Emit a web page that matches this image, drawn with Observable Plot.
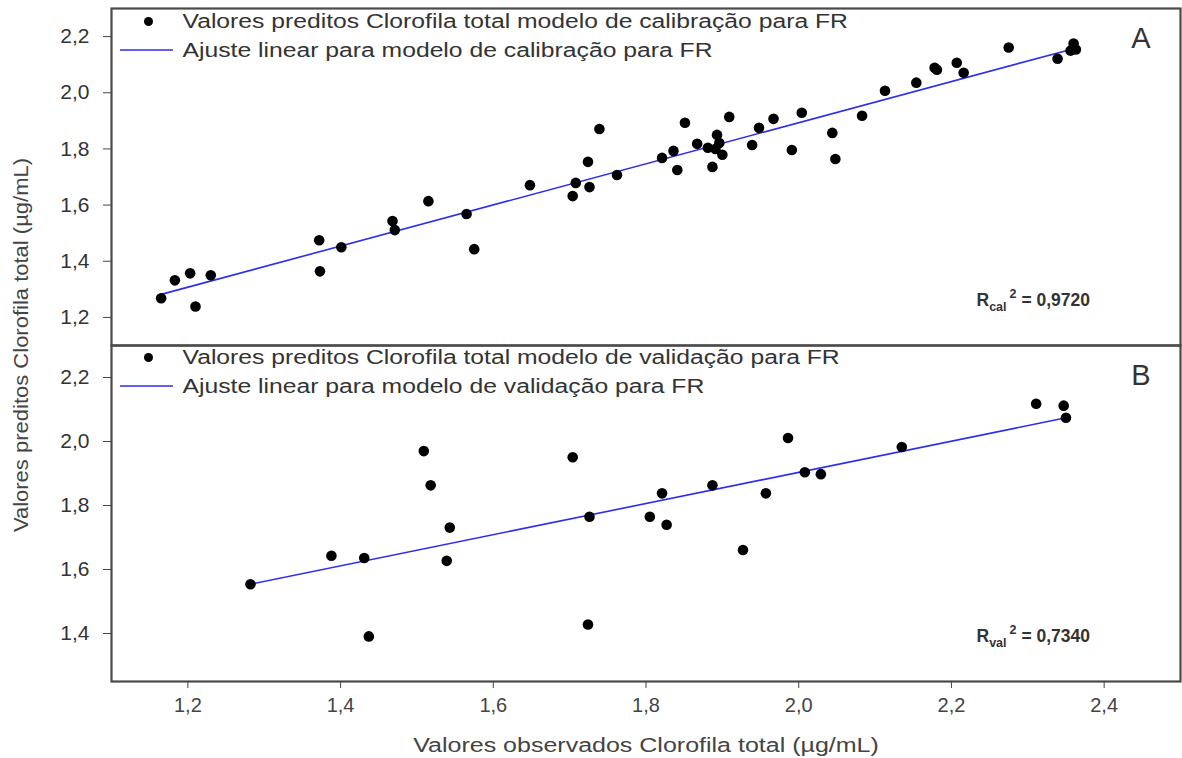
<!DOCTYPE html>
<html><head><meta charset="utf-8">
<script src="https://cdn.jsdelivr.net/npm/d3@7"></script>
<script src="https://cdn.jsdelivr.net/npm/@observablehq/plot@0.6"></script>
<style>
body{margin:0;background:#fff;font-family:"Liberation Sans",Arial,sans-serif;}
#wrap{position:relative;width:1182px;height:758px;overflow:hidden}
#wrap svg{position:absolute;left:0;overflow:visible}
#ylab{position:absolute;left:21px;top:345px;transform:translate(-50%,-50%) rotate(-90deg) scaleX(1.1);white-space:nowrap;font-size:20px;color:#444}
</style></head><body><div id="wrap"><div id="ylab">Valores preditos Clorofila total (µg/mL)</div></div>
<script>
// Panel A: calibration
const calObs  = [1.165,1.183,1.203,1.230,1.210,1.372,1.373,1.401,1.468,1.471,1.515,1.565,1.575,1.648,1.704,1.708,1.724,1.726,1.739,1.762,1.821,1.836,1.841,1.851,1.867,1.881,1.887,1.893,1.896,1.891,1.900,1.909,1.939,1.948,1.967,1.991,2.004,2.044,2.048,2.083,2.113,2.154,2.178,2.181,2.207,2.216,2.275,2.339,2.360,2.356,2.363];
const calPred = [1.268,1.332,1.357,1.350,1.239,1.475,1.364,1.450,1.543,1.511,1.614,1.568,1.443,1.671,1.632,1.679,1.754,1.664,1.871,1.707,1.768,1.793,1.725,1.893,1.818,1.804,1.736,1.850,1.821,1.800,1.779,1.914,1.814,1.875,1.907,1.796,1.929,1.857,1.764,1.918,2.007,2.036,2.089,2.082,2.107,2.071,2.161,2.121,2.175,2.150,2.154];
const calFitX = [1.165, 2.360];
const calFitY = [1.282, 2.157];
// Panel B: validation
const valObs  = [1.282,1.388,1.431,1.437,1.509,1.518,1.543,1.539,1.704,1.724,1.726,1.805,1.821,1.827,1.887,1.927,1.957,1.986,2.008,2.029,2.135,2.311,2.347,2.350];
const valPred = [1.554,1.643,1.636,1.391,1.970,1.863,1.731,1.627,1.951,1.428,1.765,1.765,1.838,1.740,1.863,1.661,1.838,2.011,1.904,1.898,1.983,2.118,2.112,2.074];
const valFitX = [1.282, 2.350];
const valFitY = [1.554, 2.074];

const xTicks = [1.2,1.4,1.6,1.8,2.0,2.2,2.4];
const yTicksCal = [1.2,1.4,1.6,1.8,2.0,2.2];
const yTicksVal = [1.4,1.6,1.8,2.0,2.2];
const legendCal = ["Valores preditos Clorofila total modelo de calibração para FR","Ajuste linear para modelo de calibração para FR"];
const legendVal = ["Valores preditos Clorofila total modelo de validação para FR","Ajuste linear para modelo de validação para FR"];
const xLabel = "Valores observados Clorofila total (µg/mL)";
const tags = ["A","B"];
const rLabels = [["cal","0,9720"],["val","0,7340"]];

const FONT = '"Liberation Sans", Arial, sans-serif';
const fmt = d => d.toFixed(1).replace(".", ",");
const BLUE = "#2d2df0";

function stretch(sel, k) {
  sel.each(function() {
    const len = this.getComputedTextLength();
    this.setAttribute("textLength", len * k);
    this.setAttribute("lengthAdjust", "spacingAndGlyphs");
  });
}

function panel(o) {
  const pts = o.obs.map((x,i)=>({x, y:o.pred[i]}));
  const fit = o.fitX.map((x,i)=>({x, y:o.fitY[i]}));
  const marks = [
    Plot.axisY({ticks:o.yTicks, tickFormat:()=>"", tickSize:8, label:null, stroke:"#444"}),
    Plot.text(o.yTicks, {y:d=>d, text:fmt, frameAnchor:"left", dx:-22, textAnchor:"end", lineAnchor:"middle", fontSize:21, fill:"#333"}),
    Plot.line(fit, {x:"x", y:"y", stroke:BLUE, strokeWidth:1.6}),
    Plot.dot(pts, {x:"x", y:"y", r:5.3, fill:"#000", stroke:null}),
    Plot.text([o.tag], {text:d=>d, frameAnchor:"top-right", dx:-30, dy:30, lineAnchor:"middle", fontSize:29, fill:"#333"}),
    Plot.dot([0], {frameAnchor:"top-left", dx:37, dy:o.legDy, r:4.5, fill:"#000"}),
    Plot.text([o.legend[0]], {text:d=>d, frameAnchor:"top-left", dx:71, dy:o.legDy, lineAnchor:"middle", textAnchor:"start", fontSize:20, fill:"#333", className:"leg"}),
    Plot.text([o.legend[1]], {text:d=>d, frameAnchor:"top-left", dx:71, dy:o.legDy+29, lineAnchor:"middle", textAnchor:"start", fontSize:20, fill:"#333", className:"leg"}),
    Plot.frame({stroke:"#4a4a4a", strokeWidth:2.2})
  ];
  if (o.showX) marks.push(Plot.axisX({ticks:xTicks, tickFormat:fmt, tickSize:7, tickPadding:9, fontSize:20, stroke:"#444", fill:"#444",
      label:xLabel, labelAnchor:"center", labelArrow:"none", labelOffset:70}));
  const svg = Plot.plot({
    width:1182, height:o.height, marginLeft:111, marginRight:2, marginTop:o.marginTop, marginBottom:o.marginBottom,
    style:{fontFamily:FONT, fontSize:"19px", color:"#444", background:"transparent", overflow:"visible"},
    x:{domain:[1.1,2.5], axis: o.showX ? undefined : null},
    y:{domain:o.yDomain},
    marks
  });
  svg.style.top = o.top + "px";
  document.getElementById("wrap").appendChild(svg);
  const s = d3.select(svg);
  // legend line symbol
  const x0 = 111, yTop = o.marginTop;
  s.append("line").attr("x1", x0+9).attr("x2", x0+62)
    .attr("y1", yTop+o.legDy+29).attr("y2", yTop+o.legDy+29)
    .attr("stroke", BLUE).attr("stroke-width", 1.6);
  // R^2 annotation
  const t = s.append("text").attr("x", 1090).attr("y", o.rY).attr("text-anchor","end")
    .attr("font-family", FONT).attr("font-weight","bold").attr("font-size",17.5).attr("fill","#333");
  t.append("tspan").text("R");
  t.append("tspan").attr("dy",5).attr("font-size",12.5).text(o.r[0]);
  t.append("tspan").attr("dy",-13).attr("dx",3).attr("font-size",12.5).text("2");
  t.append("tspan").attr("dy",8).text(" = " + o.r[1]);
  // horizontal stretch of text to match the reference proportions
  stretch(s.selectAll(".leg text"), 1.235);
  stretch(s.selectAll('g[aria-label="x-axis label"] text'), 1.25);
}

panel({obs:calObs, pred:calPred, fitX:calFitX, fitY:calFitY, yDomain:[1.1,2.3], yTicks:yTicksCal,
  legend:legendCal, tag:tags[0], r:rLabels[0], top:0, height:345, marginTop:8, marginBottom:0, showX:false, legDy:13, rY:306});
panel({obs:valObs, pred:valPred, fitX:valFitX, fitY:valFitY, yDomain:[1.25,2.3], yTicks:yTicksVal,
  legend:legendVal, tag:tags[1], r:rLabels[1], top:345, height:413, marginTop:0, marginBottom:77, showX:true, legDy:12, rY:297});
</script></body></html>
